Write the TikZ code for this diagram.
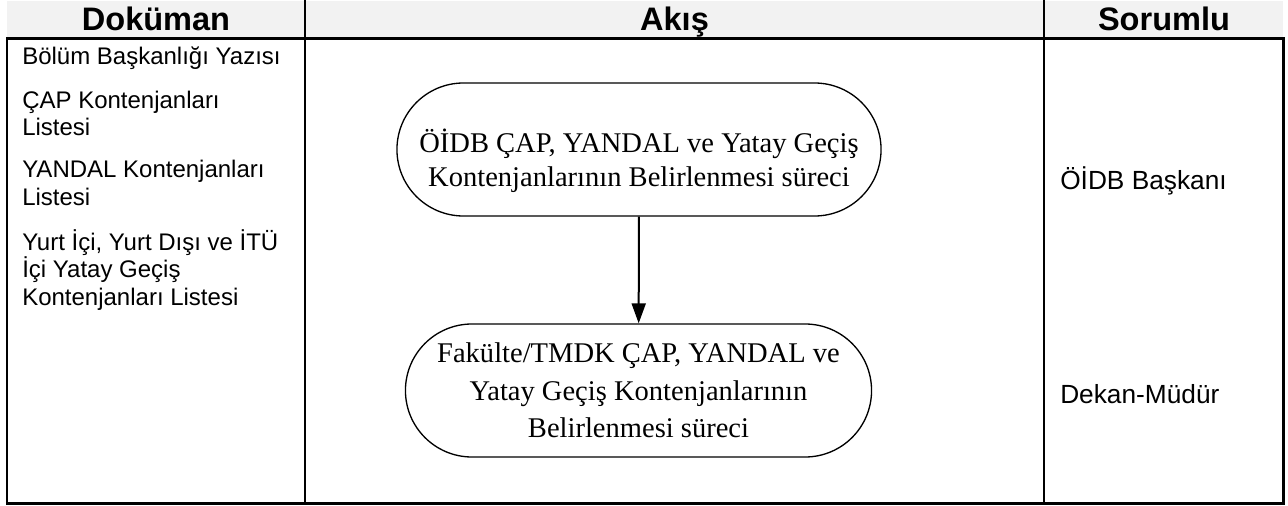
\documentclass[tikz,border=0pt]{standalone}
\usepackage{fontspec}
\setmainfont{Liberation Sans}
\newfontfamily\timesfont{Liberation Serif}
\usetikzlibrary{shapes.misc, arrows.meta, positioning}
\definecolor{headgray}{RGB}{242,242,242}

\begin{document}
\begin{tikzpicture}[x=0.75pt, y=-0.75pt,
            header/.style={font=\fontsize{24.4}{28}\selectfont\bfseries, anchor=base, inner sep=0pt},
            doc/.style={font=\fontsize{18}{20.6}\selectfont, align=left, anchor=base west, inner sep=0pt},
            resp/.style={font=\fontsize{19.7}{23}\selectfont, anchor=base west, inner sep=0pt},
            process/.style={rounded rectangle, draw, line width=1pt, align=center, minimum height=99.75pt, font=\timesfont\fontsize{21.4}{25}\selectfont},
            arrow/.style={-{Triangle[length=15pt, width=10.5pt]}, line width=1.5pt},
            rule/.style={line width=1.5pt},
            thickrule/.style={line width=2.25pt}
        ]
            \useasboundingbox (0,0) rectangle (1288,506);

% Header row
            \fill[headgray] (7,1) rectangle (1283,38);
            \node[header] (hdoc) at (156,31) {Doküman};
            \node[header] (hflow) at (674.5,31) {Akış};
            \node[header] (hresp) at (1164,31) {Sorumlu};

% Table lines
            \draw[rule] (305,0) -- (305,503);
            \draw[rule] (1044,0) -- (1044,503);
            \draw[rule] (7,38) -- (7,503);
            \draw[thickrule] (1283.5,38) -- (1283.5,504);
            \draw[thickrule] (6,38.5) -- (1285,38.5);
            \draw[thickrule] (6,503.5) -- (1285,503.5);

% Documents (anchored at the baseline of the last line)
            \node[doc] (doc1) at (22,65) {Bölüm Başkanlığı Yazısı};
            \node[doc] (doc2) at (22,136) {ÇAP Kontenjanları\\Listesi};
            \node[doc] (doc3) at (22,205) {YANDAL Kontenjanları\\Listesi};
            \node[doc] (doc4) at (22,305) {Yurt İçi, Yurt Dışı ve İTÜ\\İçi Yatay Geçiş\\Kontenjanları Listesi};

% Flow
            \node[process, minimum width=369.75pt] (oidb) at (639,149.5) {\rule{0pt}{34.5pt}ÖİDB ÇAP, YANDAL ve Yatay Geçiş\\Kontenjanlarının Belirlenmesi süreci};
            \node[process, minimum width=356.25pt, font=\timesfont\fontsize{21.4}{28}\selectfont] (fak) at (638.5,390.5) {Fakülte/TMDK ÇAP, YANDAL ve\\Yatay Geçiş Kontenjanlarının\\Belirlenmesi süreci};

            \draw[arrow] (oidb) -- (fak);

% Responsible
            \node[resp] (resp1) at (1060,190) {ÖİDB Başkanı};
            \node[resp] (resp2) at (1060,403) {Dekan-Müdür};

        \end{tikzpicture}
\end{document}
